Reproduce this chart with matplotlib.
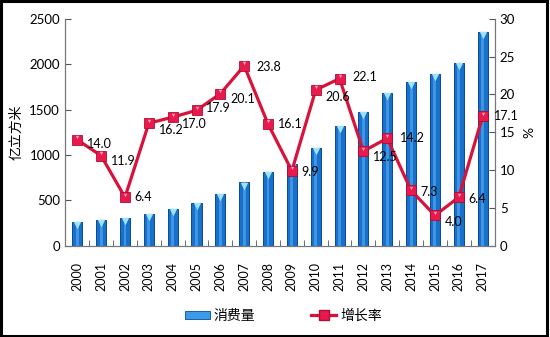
import matplotlib
matplotlib.use("Agg")
import matplotlib.pyplot as plt
import numpy as np
from matplotlib.patches import Rectangle
from matplotlib.lines import Line2D

plt.rcParams['font.family'] = ['Lato', 'Noto Sans CJK SC', 'DejaVu Sans']

years = ['2000', '2001', '2002', '2003', '2004', '2005', '2006', '2007', '2008',
         '2009', '2010', '2011', '2012', '2013', '2014', '2015', '2016', '2017']
consumption = [258, 280, 302, 352, 401, 474, 569, 698, 815,
               900, 1076, 1318, 1476, 1685, 1806, 1891, 2015, 2357]
growth = [14.0, 11.9, 6.4, 16.2, 17.0, 17.9, 20.1, 23.8, 16.1,
          9.9, 20.6, 22.1, 12.5, 14.2, 7.3, 4.0, 6.4, 17.1]
left_ticks = [0, 500, 1000, 1500, 2000, 2500]
right_ticks = [0, 5, 10, 15, 20, 25, 30]

fig = plt.figure(figsize=(5.5, 3.37), dpi=100)
ax = fig.add_axes([0.118, 0.271, 0.782, 0.673])
ax2 = ax.twinx()

x = np.arange(len(years))
bar_c = '#1670CC'
ax.bar(x, consumption, width=0.42, color=bar_c, edgecolor='#0B4A92', linewidth=0.7, zorder=2)
ax.bar(x, consumption, width=0.12, color='#4EA6EE', linewidth=0, zorder=3, alpha=0.7)
ax.scatter(x, np.array(consumption) - 35, marker='v', s=30, color='#9EE3FA', zorder=4, linewidths=0)

ax.set_xlim(-0.52, 17.52)
ax.set_ylim(0, 2500)
ax.set_yticks(left_ticks)
ax.set_xticks(x)
ax.set_xticklabels(years, rotation=90, fontsize=9)
ax.set_xticks(np.arange(-0.5, 17.6, 1), minor=True)
ax.tick_params(axis='x', which='major', length=0, pad=12)
ax.tick_params(axis='x', which='minor', direction='in', length=4, color='#555555')
ax.tick_params(axis='y', direction='in', length=4, labelsize=9.5, color='#555555')
ax.set_ylabel('亿立方米', fontsize=10, family=['Noto Sans CJK SC'], labelpad=4)

ax2.plot(x, growth, color='#D9123A', linewidth=2.3, marker='s', markersize=6.5,
         markerfacecolor='#E8194D', markeredgecolor='#B00D30', markeredgewidth=0.6, zorder=5)
ax2.scatter(x, np.array(growth) + 0.35, marker='v', s=6, color='#FF9DB5', linewidths=0, zorder=6)
ax2.set_ylim(0, 30)
ax2.set_yticks(right_ticks)
ax2.tick_params(axis='y', direction='in', length=4, labelsize=9.5, color='#555555')
ax2.set_ylabel('%', fontsize=10, rotation=90, labelpad=6)

offsets = {0: (7, -3), 1: (7, -4), 2: (7, 0), 3: (7, -5), 4: (7, -5), 5: (7, 2),
           6: (7, -4), 7: (9, -1), 8: (7, 0), 9: (7, -1), 10: (7, -5),
           11: (9, 1), 12: (7, -4), 13: (9, 0), 14: (7, -1), 15: (7, -5),
           16: (7, -1), 17: (8, 0)}
for i, g in enumerate(growth):
    dx, dy = offsets[i]
    ax2.annotate(f'{g:.1f}', (x[i], g), xytext=(dx, dy), textcoords='offset points',
                 fontsize=9, ha='left', va='center', zorder=7)

for a in (ax, ax2):
    a.spines['top'].set_visible(False)
    for s in ('left', 'right', 'bottom'):
        a.spines[s].set_color('#777777')
        a.spines[s].set_linewidth(0.8)

ax2.set_zorder(ax.get_zorder() + 1)
ax2.patch.set_visible(False)

h1 = Rectangle((0, 0), 1, 1, facecolor='#3A9BE8', edgecolor='#0B4A92', linewidth=0.6)
h2 = Line2D([], [], color='#D9123A', linewidth=2.3, marker='s', markersize=6.5,
            markerfacecolor='#E8194D', markeredgecolor='#B00D30')
fig.legend([h1, h2], ['消费量', '增长率'], loc='center', bbox_to_anchor=(0.515, 0.063),
           ncol=2, frameon=False, handlelength=1.8, handleheight=0.45, handletextpad=0.3,
           columnspacing=4, prop={'family': ['Noto Sans CJK SC'], 'size': 10})

fig.patches.append(Rectangle((0.002, 0.004), 0.993, 0.992, transform=fig.transFigure,
                             fill=False, edgecolor='black', linewidth=2.2))

fig.savefig('out.png', dpi=100)
